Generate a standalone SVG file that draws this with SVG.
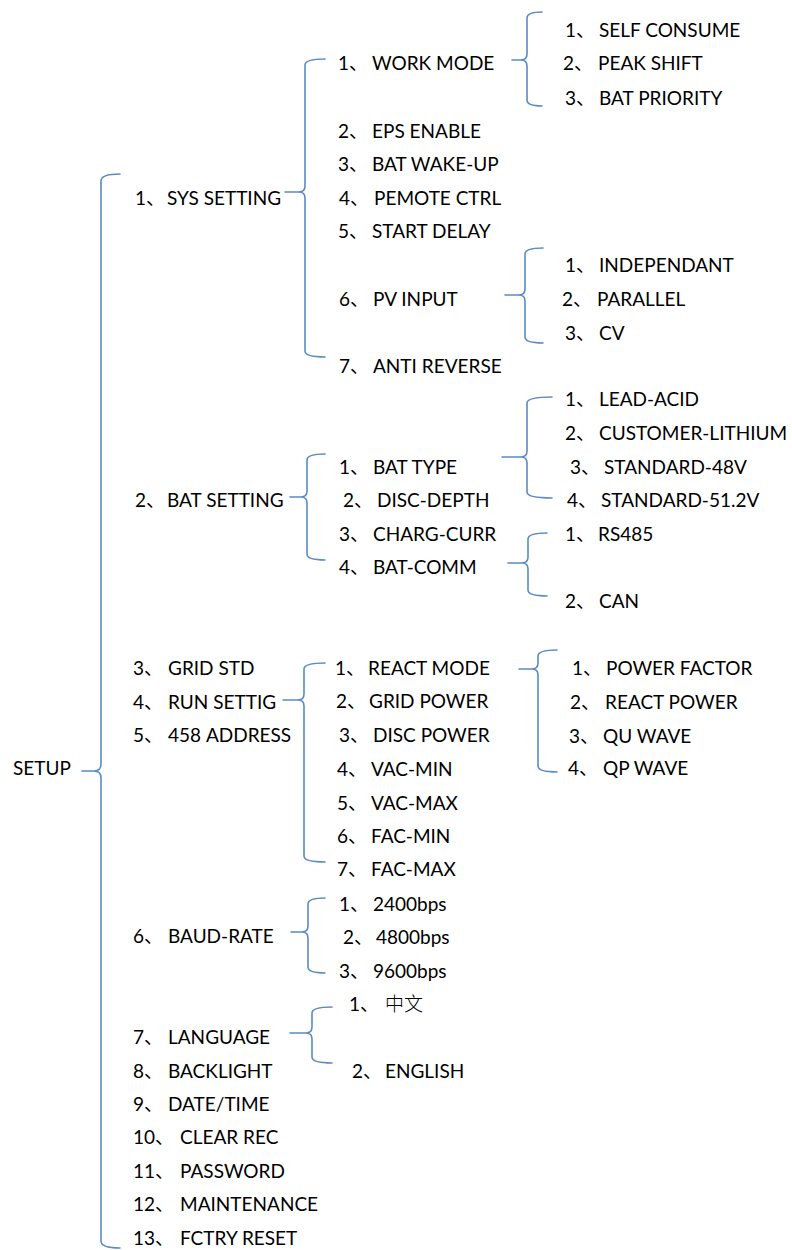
<svg xmlns="http://www.w3.org/2000/svg" width="792" height="1250" viewBox="0 0 792 1250">
<style>
text{font-family:Lato,"Noto Sans CJK SC",sans-serif;font-size:19px;fill:#000}
.b{fill:none;stroke:#5b8ac6;stroke-width:1.6;stroke-linecap:round;stroke-linejoin:round}
</style>
<rect width="792" height="1250" fill="#fff"/>
<g id="connectors">
<path class="b" d="M120 174Q101 174 101 181V764Q101 771 94 771H82M94 771Q101 771 101 778V1241Q101 1248 120 1248"/>
<path class="b" d="M325 59Q305 59 305 65V186Q305 192 299 192H285M299 192Q305 192 305 198V351Q305 357 325 357"/>
<path class="b" d="M542 12Q527 12 527 18V54Q527 60 521 60H512M521 60Q527 60 527 66V100Q527 106 542 106"/>
<path class="b" d="M543 248Q525 248 525 254V289Q525 295 519 295H505M519 295Q525 295 525 301V337Q525 343 543 343"/>
<path class="b" d="M325 454Q307 454 307 460V491Q307 497 301 497H290M301 497Q307 497 307 503V554Q307 560 325 560"/>
<path class="b" d="M552 397Q527 397 527 403V451Q527 457 521 457H502M521 457Q527 457 527 463V492Q527 498 552 498"/>
<path class="b" d="M547 533Q528 533 528 539V557Q528 563 522 563H508M522 563Q528 563 528 569V590Q528 596 547 596"/>
<path class="b" d="M325 663Q304 663 304 669V694Q304 700 298 700H283M298 700Q304 700 304 706V856Q304 862 325 862"/>
<path class="b" d="M557 650Q538 650 538 656V663Q538 669 532 669H519M532 669Q538 669 538 675V766Q538 772 557 772"/>
<path class="b" d="M325 898Q308 898 308 904V926Q308 932 302 932H291M302 932Q308 932 308 938V967Q308 973 325 973"/>
<path class="b" d="M332 1007Q312 1007 312 1013V1027Q312 1033 306 1033H290M306 1033Q312 1033 312 1039V1057Q312 1063 332 1063"/>
</g>
<g id="setup"><text x="13" y="775">SETUP</text></g>
<g id="sys-setting"><text y="205"><tspan x="135">1、</tspan><tspan x="167">SYS SETTING</tspan></text></g>
<g id="bat-setting"><text y="507"><tspan x="135">2、</tspan><tspan x="167">BAT SETTING</tspan></text></g>
<g id="grid-std"><text y="675"><tspan x="133">3、</tspan><tspan x="168">GRID STD</tspan></text></g>
<g id="run-settig"><text y="709"><tspan x="133">4、</tspan><tspan x="168">RUN SETTIG</tspan></text></g>
<g id="address"><text y="742"><tspan x="133">5、</tspan><tspan x="168">458 ADDRESS</tspan></text></g>
<g id="baud-rate"><text y="943"><tspan x="133">6、</tspan><tspan x="168">BAUD-RATE</tspan></text></g>
<g id="language"><text y="1044"><tspan x="133">7、</tspan><tspan x="168">LANGUAGE</tspan></text></g>
<g id="backlight"><text y="1078"><tspan x="133">8、</tspan><tspan x="168">BACKLIGHT</tspan></text></g>
<g id="date-time"><text y="1111"><tspan x="133">9、</tspan><tspan x="168">DATE/TIME</tspan></text></g>
<g id="clear-rec"><text y="1144"><tspan x="133">10、</tspan><tspan x="180">CLEAR REC</tspan></text></g>
<g id="password"><text y="1178"><tspan x="133">11、</tspan><tspan x="180">PASSWORD</tspan></text></g>
<g id="maintenance"><text y="1211"><tspan x="133">12、</tspan><tspan x="180">MAINTENANCE</tspan></text></g>
<g id="fctry-reset"><text y="1245"><tspan x="133">13、</tspan><tspan x="180">FCTRY RESET</tspan></text></g>
<g id="work-mode"><text y="70"><tspan x="338">1、</tspan><tspan x="372">WORK MODE</tspan></text></g>
<g id="eps-enable"><text y="138"><tspan x="338">2、</tspan><tspan x="372">EPS ENABLE</tspan></text></g>
<g id="bat-wake-up"><text y="171"><tspan x="338">3、</tspan><tspan x="372">BAT WAKE-UP</tspan></text></g>
<g id="pemote-ctrl"><text y="205"><tspan x="339">4、</tspan><tspan x="374">PEMOTE CTRL</tspan></text></g>
<g id="start-delay"><text y="238"><tspan x="338">5、</tspan><tspan x="372">START DELAY</tspan></text></g>
<g id="pv-input"><text y="306"><tspan x="339">6、</tspan><tspan x="373">PV INPUT</tspan></text></g>
<g id="anti-reverse"><text y="373"><tspan x="339">7、</tspan><tspan x="373">ANTI REVERSE</tspan></text></g>
<g id="self-consume"><text y="37"><tspan x="565">1、</tspan><tspan x="599">SELF CONSUME</tspan></text></g>
<g id="peak-shift"><text y="70"><tspan x="563">2、</tspan><tspan x="598">PEAK SHIFT</tspan></text></g>
<g id="bat-priority"><text y="105"><tspan x="565">3、</tspan><tspan x="599">BAT PRIORITY</tspan></text></g>
<g id="independant"><text y="272"><tspan x="565">1、</tspan><tspan x="599">INDEPENDANT</tspan></text></g>
<g id="parallel"><text y="306"><tspan x="562">2、</tspan><tspan x="597">PARALLEL</tspan></text></g>
<g id="cv"><text y="340"><tspan x="565">3、</tspan><tspan x="599">CV</tspan></text></g>
<g id="bat-type"><text y="474"><tspan x="339">1、</tspan><tspan x="373">BAT TYPE</tspan></text></g>
<g id="disc-depth"><text y="507"><tspan x="343">2、</tspan><tspan x="377">DISC-DEPTH</tspan></text></g>
<g id="charg-curr"><text y="541"><tspan x="339">3、</tspan><tspan x="373">CHARG-CURR</tspan></text></g>
<g id="bat-comm"><text y="574"><tspan x="339">4、</tspan><tspan x="373">BAT-COMM</tspan></text></g>
<g id="lead-acid"><text y="406"><tspan x="565">1、</tspan><tspan x="599">LEAD-ACID</tspan></text></g>
<g id="customer-lithium"><text y="440"><tspan x="565">2、</tspan><tspan x="599">CUSTOMER-LITHIUM</tspan></text></g>
<g id="standard-48v"><text y="474"><tspan x="570">3、</tspan><tspan x="604">STANDARD-48V</tspan></text></g>
<g id="standard-51v"><text y="507"><tspan x="567">4、</tspan><tspan x="601">STANDARD-51.2V</tspan></text></g>
<g id="rs485"><text y="541"><tspan x="565">1、</tspan><tspan x="598">RS485</tspan></text></g>
<g id="can"><text y="608"><tspan x="565">2、</tspan><tspan x="599">CAN</tspan></text></g>
<g id="react-mode"><text y="675"><tspan x="335">1、</tspan><tspan x="368">REACT MODE</tspan></text></g>
<g id="grid-power"><text y="708"><tspan x="336">2、</tspan><tspan x="369">GRID POWER</tspan></text></g>
<g id="disc-power"><text y="742"><tspan x="339">3、</tspan><tspan x="373">DISC POWER</tspan></text></g>
<g id="vac-min"><text y="776"><tspan x="337">4、</tspan><tspan x="371">VAC-MIN</tspan></text></g>
<g id="vac-max"><text y="810"><tspan x="337">5、</tspan><tspan x="371">VAC-MAX</tspan></text></g>
<g id="fac-min"><text y="843"><tspan x="337">6、</tspan><tspan x="371">FAC-MIN</tspan></text></g>
<g id="fac-max"><text y="876"><tspan x="337">7、</tspan><tspan x="371">FAC-MAX</tspan></text></g>
<g id="power-factor"><text y="675"><tspan x="572">1、</tspan><tspan x="606">POWER FACTOR</tspan></text></g>
<g id="react-power"><text y="709"><tspan x="570">2、</tspan><tspan x="605">REACT POWER</tspan></text></g>
<g id="qu-wave"><text y="743"><tspan x="569">3、</tspan><tspan x="603">QU WAVE</tspan></text></g>
<g id="qp-wave"><text y="775"><tspan x="568">4、</tspan><tspan x="603">QP WAVE</tspan></text></g>
<g id="bps2400"><text y="911"><tspan x="339">1、</tspan><tspan x="373">2400bps</tspan></text></g>
<g id="bps4800"><text y="944"><tspan x="343">2、</tspan><tspan x="376">4800bps</tspan></text></g>
<g id="bps9600"><text y="978"><tspan x="339">3、</tspan><tspan x="373">9600bps</tspan></text></g>
<g id="chinese"><text y="1011"><tspan x="349">1、</tspan><tspan x="385" style="font-weight:300">中文</tspan></text></g>
<g id="english"><text y="1078"><tspan x="352">2、</tspan><tspan x="385">ENGLISH</tspan></text></g>
</svg>
